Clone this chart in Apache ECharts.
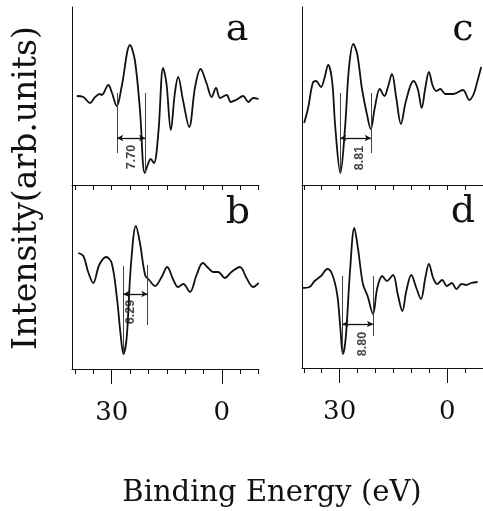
<!DOCTYPE html>
<html>
<head>
<meta charset="utf-8">
<script src="https://cdn.jsdelivr.net/npm/echarts@6/dist/echarts.min.js"></script>
<style>html,body{margin:0;padding:0;background:#fff}#c{width:483px;height:511px}</style>
</head>
<body>
<div id="c"></div>
<script>
// ---- data (binding energy in eV, intensity in arbitrary units) ----
const energyA = [39.5,37.7,35.9,34.5,33.2,32.7,30.9,30.0,28.6,27.3,25.0,23.7,22.3,21.0,20.0,19.4,18.5,17.3,16.0,15.1,13.9,12.8,11.9,10.6,8.9,7.3,5.8,4.2,2.8,1.6,0.5,-1.3,-2.4,-3.8,-5.8,-7.2,-8.5,-10.0];
const intensityA = [89,88,82,88,91,90,100,93,79,98,140,125,75,12,22,26,22,52,117,102,55,92,108,85,58,98,116,102,88,97,87,90,83,85,89,83,87,86];
const energyB = [39.1,37.7,36.4,35.0,33.4,31.5,30.0,28.6,27.5,26.8,25.9,24.8,23.4,22.3,20.9,19.8,18.2,16.4,14.9,13.2,11.9,10.5,8.7,6.9,5.2,3.7,2.4,1.0,-0.8,-2.6,-4.9,-6.7,-8.5,-10.0];
const intensityB = [116,113,97,86,104,112,106,72,32,15,32,102,143,126,94,89,83,92,102,89,82,85,77,94,106,101,97,97,91,97,102,91,82,86];
const energyC = [39.9,38.8,37.5,36.6,35.2,34.3,33.2,32.1,31.2,29.8,28.5,27.4,26.2,25.1,23.8,22.4,21.3,20.2,18.8,17.5,16.6,15.4,14.2,12.9,11.5,9.4,8.2,7.1,6.1,5.1,4.0,3.0,1.9,0.5,-1.7,-4.4,-6.2,-7.4,-8.3,-9.5];
const intensityC = [62,77,102,104,98,106,120,104,57,12,57,117,141,131,97,71,56,77,96,89,97,111,87,61,84,104,96,77,97,113,99,94,96,91,91,95,85,91,102,118];
const energyD = [40.4,38.4,37.0,35.2,33.4,32.1,30.7,29.8,29.1,28.3,27.1,25.9,24.9,23.5,22.2,20.7,19.5,18.1,16.8,15.1,13.8,12.5,11.4,10.0,8.6,7.3,6.1,5.1,3.9,2.8,1.4,0.1,-1.3,-2.6,-4.0,-5.3,-6.7,-8.5];
const intensityD = [80,81,87,92,99,94,74,40,14,30,97,140,120,84,72,54,80,92,87,93,74,57,77,93,80,69,90,104,90,84,88,82,85,79,84,83,85,86];

const panelLabels = ['a','b','c','d'];
const minorTicks = [40,35,30,25,20,15,10,5,0,-5,-10];
const majorTicks = [30,0];

// separation annotations (eV positions and heights in panel units)
const annotLabels = ['7.70','6.29','8.81','8.80'];
const annotLeftE = [28.5,26.8,29.8,29.2];
const annotRightE = [20.9,20.3,21.3,20.7];
const annotLeftTop = [92,103,92,92];
const annotLeftBottom = [32,16,12,14];
const annotRightTop = [92,104,92,92];
const annotRightBottom = [13,44,32,32];
const annotArrowV = [47,75,47,44];
const annotTextE = [24.7,24.9,24.4,23.7];
const annotTextV = [28,57,27,24];

const energies = [energyA,energyB,energyC,energyD];
const intensities = [intensityA,intensityB,intensityC,intensityD];

// ---- layout ----
const grids = [
  {left:72, top:7, width:187, height:178},
  {left:72, top:185, width:187, height:184},
  {left:302, top:7, width:187, height:178},
  {left:302, top:185, width:187, height:183}
];
const xRange = [[-10.1,40.8],[-10.1,40.8],[-10,40.5],[-10,40.5]];
const serif = 'DejaVu Serif';
const ink = '#111';

const xAxis = [], yAxis = [], series = [];
grids.forEach((g,i)=>{
  xAxis.push({
    type:'value', gridIndex:i, position:'bottom', min:xRange[i][0], max:xRange[i][1], inverse:true,
    axisLine:{show:true, onZero:false, lineStyle:{color:ink,width:1}},
    axisTick:{show:true, customValues:minorTicks, length:5, lineStyle:{color:ink,width:1}},
    axisLabel:{show:false}, splitLine:{show:false}
  });
  yAxis.push({
    type:'value', gridIndex:i, position:'left', min:0, max:g.height,
    axisLine:{show:true, onZero:false, lineStyle:{color:ink,width:1}},
    axisTick:{show:false}, axisLabel:{show:false}, splitLine:{show:false}
  });
});
// major ticks + labels on bottom panels
[1,3].forEach(i=>{
  xAxis.push({
    type:'value', gridIndex:i, position:'bottom', offset:0, min:xRange[i][0], max:xRange[i][1], inverse:true,
    axisLine:{show:false, onZero:false},
    axisTick:{show:true, customValues:majorTicks, length:15, lineStyle:{color:ink,width:1}},
    axisLabel:{show:true, customValues:majorTicks, margin:31, color:ink, fontFamily:serif, fontSize:26},
    splitLine:{show:false}
  });
});

for(let i=0;i<4;i++){
  const data = energies[i].map((e,k)=>[e,intensities[i][k]]);
  series.push({
    type:'line', xAxisIndex:i, yAxisIndex:i, data, smooth:0.35,
    showSymbol:false, lineStyle:{color:ink,width:1.8}, animation:false,
    markLine:{
      silent:true, animation:false, label:{show:false},
      lineStyle:{color:'#444',width:1,type:'solid'},
      symbol:['none','none'],
      data:[
        [{coord:[annotLeftE[i],annotLeftTop[i]]},{coord:[annotLeftE[i],annotLeftBottom[i]]}],
        [{coord:[annotRightE[i],annotRightTop[i]]},{coord:[annotRightE[i],annotRightBottom[i]]}],
        [{coord:[annotLeftE[i],annotArrowV[i]],symbol:'arrow',symbolSize:[5,6]},
         {coord:[annotRightE[i],annotArrowV[i]],symbol:'arrow',symbolSize:[5,6],lineStyle:{color:ink,width:1.3}}]
      ]
    }
  });
  series.push({
    type:'scatter', xAxisIndex:i, yAxisIndex:i, symbolSize:0, animation:false, silent:true,
    data:[[annotTextE[i],annotTextV[i]]],
    label:{show:true, position:'inside', rotate:90, formatter:annotLabels[i],
      color:ink, fontFamily:'Liberation Sans', fontWeight:'bold', fontSize:12.5}
  });
}

const labelPos = [[237,30],[238,213],[463,30],[463,212]];
const graphic = panelLabels.map((t,i)=>({
  type:'text', x:labelPos[i][0], y:labelPos[i][1],
  style:{text:t, font:'38px "DejaVu Serif"', fill:ink, textAlign:'center', textVerticalAlign:'middle'}
}));
graphic.push({type:'text', x:27, y:188, rotation:Math.PI/2,
  style:{text:'Intensity(arb.units)', font:'33px "DejaVu Serif"', fill:ink, textAlign:'center', textVerticalAlign:'middle'}});
graphic.push({type:'text', x:272, y:493,
  style:{text:'Binding Energy (eV)', font:'29px "DejaVu Serif"', fill:ink, textAlign:'center', textVerticalAlign:'middle'}});

const chart = echarts.init(document.getElementById('c'), null, {renderer:'canvas'});
chart.setOption({
  animation:false, backgroundColor:'#fff',
  grid:grids, xAxis, yAxis, series, graphic
});
</script>
</body>
</html>
